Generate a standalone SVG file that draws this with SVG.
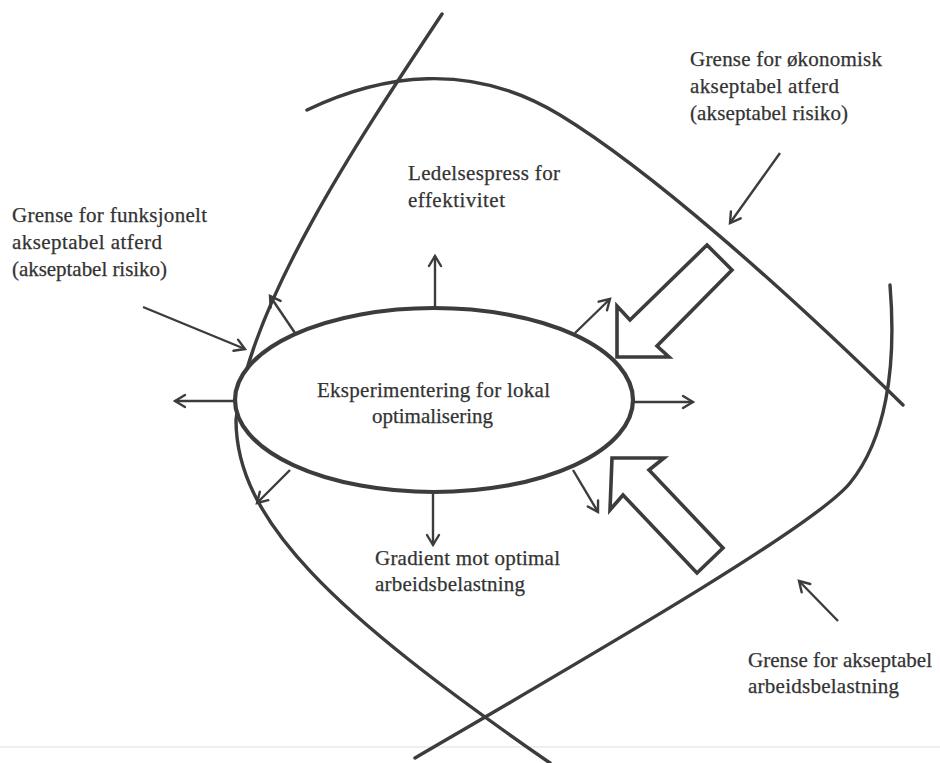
<svg xmlns="http://www.w3.org/2000/svg" width="940" height="763" viewBox="0 0 940 763">
<style>
.bd{fill:none;stroke:#3a3c3e;stroke-width:3.4;stroke-linecap:round}
.ar{fill:none;stroke:#3a3c3e;stroke-width:2.4;marker-end:url(#ah)}
.big{fill:none;stroke:#3a3c3e;stroke-width:3.6;stroke-linejoin:miter}
text{font-family:"Liberation Serif","Times New Roman",serif;font-size:21px;fill:#333333;stroke:#333333;stroke-width:0.25}
</style>
<defs>
<marker id="ah" markerUnits="userSpaceOnUse" markerWidth="16" markerHeight="16" viewBox="0 0 16 16" refX="13" refY="8" orient="auto">
<path d="M3,2 L13,8 L3,14" fill="none" stroke="#3a3c3e" stroke-width="2.4" stroke-linecap="round" stroke-linejoin="miter"/>
</marker>
</defs>
<rect width="940" height="763" fill="#ffffff"/>
<line x1="0" y1="747" x2="940" y2="747" stroke="#f2e6ea" stroke-width="1.5"/>
<g id="connectors">
<path id="grense-funksjonelt" class="bd" d="M442,14 C365,130 250,300 236,420 C236,520 332,612 550,763"/>
<path id="grense-okonomisk" class="bd" d="M307,110 C380,75 470,60 560,115 C650,170 780,285 903,405"/>
<path id="grense-arbeid" class="bd" d="M890,285 C897,370 885,440 850,483 C815,526 600,650 415,758"/>
<line class="ar" x1="435" y1="308" x2="435" y2="256"/>
<line class="ar" x1="433" y1="494" x2="433" y2="545"/>
<line class="ar" x1="235" y1="401" x2="175" y2="401"/>
<line class="ar" x1="633" y1="402" x2="693" y2="402"/>
<line class="ar" x1="295" y1="333" x2="270" y2="296"/>
<line class="ar" x1="575" y1="333" x2="610" y2="299"/>
<line class="ar" x1="290" y1="470" x2="257" y2="503"/>
<line class="ar" x1="573" y1="470" x2="598" y2="512"/>
<line class="ar" x1="143" y1="307" x2="245" y2="349"/>
<line class="ar" x1="780" y1="153" x2="730" y2="223"/>
<line class="ar" x1="838" y1="621" x2="799" y2="581"/>
<polygon class="big" points="707,245 630,320 617,306 617,357 669,357 657,346 732,270"/>
<polygon class="big" points="612,458 664,458 649,470 723,548 697,573 623,495 610,510"/>
</g>
<g id="node-eksperimentering">
<ellipse cx="434" cy="400" rx="199" ry="92" fill="#ffffff" stroke="#3a3c3e" stroke-width="4.2"/>
<text x="317" y="397" textLength="233" lengthAdjust="spacing">Eksperimentering for lokal</text>
<text x="372" y="423" textLength="121" lengthAdjust="spacing">optimalisering</text>
</g>
<g id="label-funksjonelt">
<text x="12" y="222" textLength="195" lengthAdjust="spacing">Grense for funksjonelt</text>
<text x="12" y="249" textLength="150" lengthAdjust="spacing">akseptabel atferd</text>
<text x="12" y="276" textLength="155" lengthAdjust="spacing">(akseptabel risiko)</text>
</g>
<g id="label-okonomisk">
<text x="690" y="66" textLength="192" lengthAdjust="spacing">Grense for økonomisk</text>
<text x="690" y="93" textLength="149" lengthAdjust="spacing">akseptabel atferd</text>
<text x="690" y="120" textLength="158" lengthAdjust="spacing">(akseptabel risiko)</text>
</g>
<g id="label-ledelsespress">
<text x="408" y="180" textLength="152" lengthAdjust="spacing">Ledelsespress for</text>
<text x="408" y="207" textLength="97" lengthAdjust="spacing">effektivitet</text>
</g>
<g id="label-gradient">
<text x="375" y="565" textLength="185" lengthAdjust="spacing">Gradient mot optimal</text>
<text x="375" y="591" textLength="150" lengthAdjust="spacing">arbeidsbelastning</text>
</g>
<g id="label-arbeid">
<text x="748" y="667" textLength="184" lengthAdjust="spacing">Grense for akseptabel</text>
<text x="748" y="693" textLength="151" lengthAdjust="spacing">arbeidsbelastning</text>
</g>
</svg>
